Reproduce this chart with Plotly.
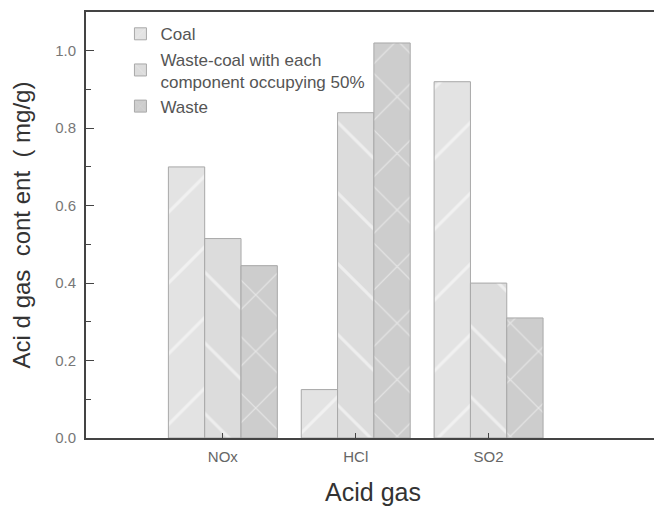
import plotly.graph_objects as go

categories = ["NOx", "HCl", "SO2"]
series_names = ["Coal", "Waste-coal with each<br>component occupying 50%", "Waste"]
coal = [0.70, 0.125, 0.92]
mixed = [0.515, 0.84, 0.40]
waste = [0.445, 1.02, 0.31]
y_ticks = [0.0, 0.2, 0.4, 0.6, 0.8, 1.0]
y_tick_labels = ["0.0", "0.2", "0.4", "0.6", "0.8", "1.0"]

styles = [
    dict(color="#e3e3e3", shape="/", size=50),
    dict(color="#dcdcdc", shape="\\", size=50),
    dict(color="#cdcdcd", shape="x", size=40),
]

fig = go.Figure()
for name, vals, st in zip(series_names, [coal, mixed, waste], styles):
    fig.add_trace(go.Bar(
        name=name,
        x=categories,
        y=vals,
        marker=dict(
            color=st["color"],
            line=dict(color="#a8a8a8", width=1),
            pattern=dict(shape=st["shape"], size=st["size"], solidity=0.06,
                         fgcolor="#ffffff", fillmode="overlay"),
        ),
    ))

# page body has an 8px margin, so the figure is sized to fill the rest of the window
fig.update_layout(
    width=654, height=498,
    margin=dict(l=78, r=2, t=4, b=68, autoexpand=False),
    plot_bgcolor="white", paper_bgcolor="white",
    barmode="group", bargap=0.18, bargroupgap=0,
    font=dict(family="Liberation Sans, Arial, sans-serif", color="#444"),
    showlegend=True,
    legend=dict(x=0.06, y=0.99, xanchor="left", yanchor="top",
                bgcolor="rgba(0,0,0,0)", font=dict(size=17, color="#555"),
                tracegroupgap=0, itemwidth=30),
)
fig.update_xaxes(
    range=[-1.03, 3.29], automargin=False,
    showline=True, linecolor="#444", linewidth=2, mirror=True,
    ticks="inside", ticklen=5, tickcolor="#444",
    tickfont=dict(size=15, color="#666"), ticklabelstandoff=4,
    title=dict(text="Acid gas", font=dict(size=25, color="#333"), standoff=20),
    showgrid=False,
)
fig.update_yaxes(
    range=[0, 1.1], automargin=False,
    tickvals=y_ticks, ticktext=y_tick_labels,
    showline=True, linecolor="#444", linewidth=2, mirror=True,
    ticks="inside", ticklen=8, tickcolor="#444",
    minor=dict(ticks="inside", ticklen=5, dtick=0.1, tickcolor="#444"),
    tickfont=dict(size=15, color="#777"), ticklabelstandoff=5,
    title=dict(text="Aci d gas  cont ent  ( mg/g)", font=dict(size=24, color="#333"), standoff=20),
    showgrid=False, zeroline=False,
)

fig.write_html("out.html")
